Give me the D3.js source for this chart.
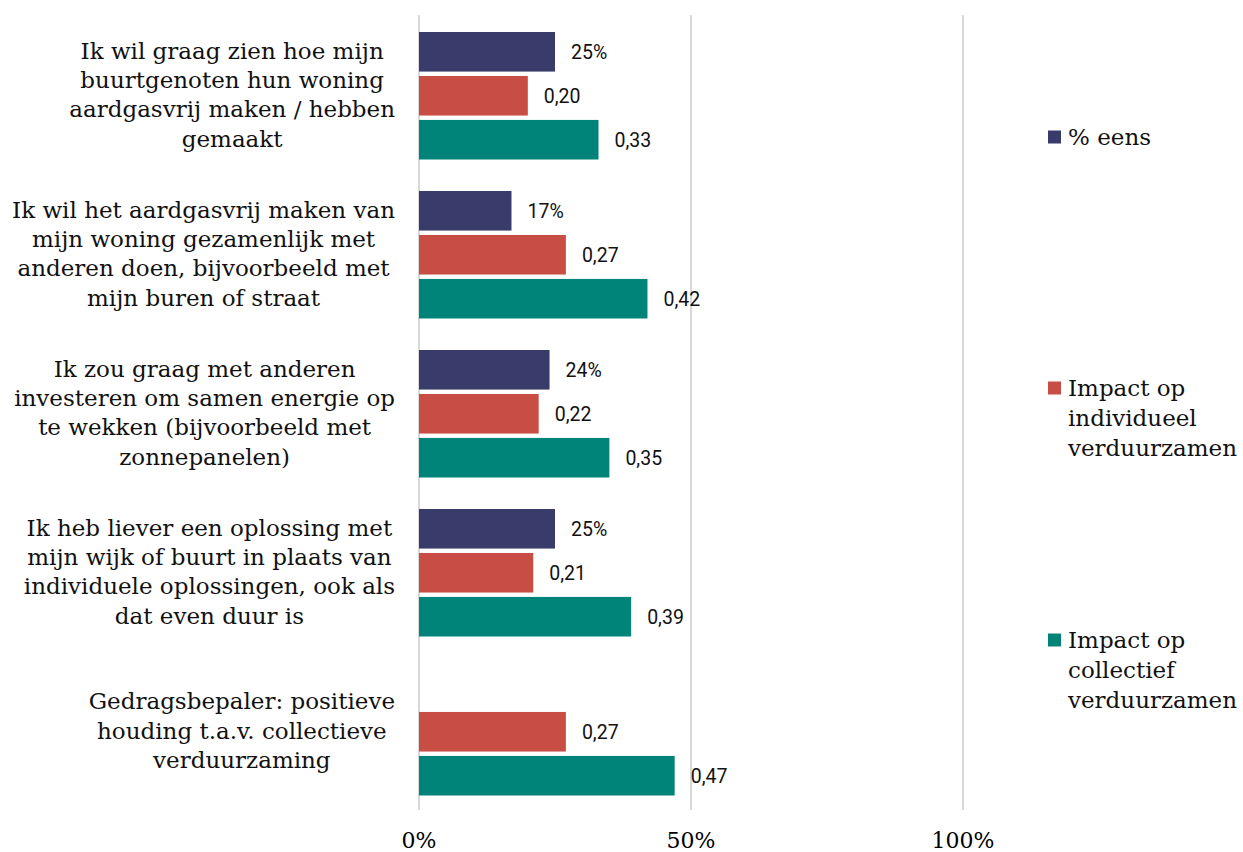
<!DOCTYPE html>
<html>
<head>
<meta charset="utf-8">
<script src="https://cdn.jsdelivr.net/npm/d3@7"></script>
<style>
  html, body { margin: 0; padding: 0; background: #fff; }
  svg { display: block; }
</style>
</head>
<body>
<svg id="chart" width="1243" height="852"></svg>
<script>
// categories, each already split into the lines shown on the chart
const categories = [
  ["Ik wil graag zien hoe mijn", "buurtgenoten hun woning", "aardgasvrij maken / hebben", "gemaakt"],
  ["Ik wil het aardgasvrij maken van", "mijn woning gezamenlijk met", "anderen doen, bijvoorbeeld met", "mijn buren of straat"],
  ["Ik zou graag met anderen", "investeren om samen energie op", "te wekken (bijvoorbeeld met", "zonnepanelen)"],
  ["Ik heb liever een oplossing met", "mijn wijk of buurt in plaats van", "individuele oplossingen, ook als", "dat even duur is"],
  ["Gedragsbepaler: positieve", "houding t.a.v. collectieve", "verduurzaming"]
];
const seriesNames = ["% eens", "Impact op individueel verduurzamen", "Impact op collectief verduurzamen"];
const legendLines = [["% eens"], ["Impact op", "individueel", "verduurzamen"], ["Impact op", "collectief", "verduurzamen"]];
const pctEens = [0.25, 0.17, 0.24, 0.25, null];
const impactIndividueel = [0.20, 0.27, 0.22, 0.21, 0.27];
const impactCollectief = [0.33, 0.42, 0.35, 0.39, 0.47];
const xTicks = [0, 0.5, 1];
const colors = ["#393c6b", "#c84d44", "#00847a"];

const serifFont = "'DejaVu Serif', serif";
const sansFont = "Roboto, Arial, sans-serif";

const svg = d3.select("#chart");

const x = d3.scaleLinear().domain([0, 1]).range([419, 963]);
const keys = categories.map((c, i) => i);
const y0 = d3.scaleBand().domain(keys).range([15, 810]);
const y1 = d3.scaleBand().domain([0, 1, 2]).range([17, 144.5]).paddingInner(0.1);

const rows = keys.map(i => ({
  i,
  values: [pctEens[i], impactIndividueel[i], impactCollectief[i]]
}));

// gridlines
svg.append("g")
  .selectAll("line")
  .data(xTicks)
  .join("line")
  .attr("x1", d => x(d))
  .attr("x2", d => x(d))
  .attr("y1", 15)
  .attr("y2", 810)
  .attr("stroke", "#d9d9d9")
  .attr("stroke-width", 2);

// x tick labels
svg.append("g")
  .selectAll("text")
  .data(xTicks)
  .join("text")
  .attr("x", d => x(d))
  .attr("y", 848)
  .attr("text-anchor", "middle")
  .attr("font-family", serifFont)
  .attr("font-size", "22px")
  .attr("fill", "#000")
  .text(d => d3.format(".0%")(d));

// bars
const groups = svg.append("g")
  .selectAll("g")
  .data(rows)
  .join("g")
  .attr("transform", d => `translate(0,${y0(d.i)})`);

groups.selectAll("rect")
  .data(d => d.values.map((v, s) => ({ v, s })).filter(d => d.v != null))
  .join("rect")
  .attr("x", x(0))
  .attr("y", d => y1(d.s))
  .attr("width", d => x(d.v) - x(0))
  .attr("height", y1.bandwidth())
  .attr("fill", d => colors[d.s]);

groups.selectAll("text")
  .data(d => d.values.map((v, s) => ({ v, s })).filter(d => d.v != null))
  .join("text")
  .attr("x", d => x(d.v) + 16)
  .attr("y", d => y1(d.s) + y1.bandwidth() / 2)
  .attr("dy", "0.35em")
  .attr("font-family", sansFont)
  .attr("font-size", "19.5px")
  .attr("fill", "#111")
  .text(d => d.s === 0 ? d3.format(".0%")(d.v) : d3.format(".2f")(d.v).replace(".", ","));

// category labels: block right-aligned, lines centred inside the block
const labelRight = 395;
const lineH = 29.3;
svg.append("g")
  .selectAll("text")
  .data(rows)
  .join("text")
  .attr("font-family", serifFont)
  .attr("font-size", "23px")
  .attr("fill", "#111")
  .attr("text-anchor", "middle")
  .each(function (d) {
    const t = d3.select(this);
    const lines = categories[d.i];
    const cy = y0(d.i) + y0.bandwidth() / 2;
    const top = cy - (lines.length - 1) * lineH / 2;
    t.selectAll("tspan")
      .data(lines)
      .join("tspan")
      .attr("y", (l, k) => top + k * lineH)
      .attr("dy", "0.35em")
      .text(l => l);
    let maxW = 0;
    t.selectAll("tspan").each(function () {
      maxW = Math.max(maxW, this.getComputedTextLength());
    });
    t.selectAll("tspan").attr("x", labelRight - maxW / 2);
  });

// legend
const legendY = [137, 418, 670];
const legend = svg.append("g")
  .selectAll("g")
  .data(seriesNames)
  .join("g")
  .attr("transform", (d, i) => `translate(1048,${legendY[i]})`);

legend.append("rect")
  .attr("x", 0)
  .attr("y", (d, i) => -(legendLines[i].length - 1) * 15 - 6.5)
  .attr("width", 13)
  .attr("height", 13)
  .attr("fill", (d, i) => colors[i]);

legend.append("text")
  .attr("font-family", serifFont)
  .attr("font-size", "23px")
  .attr("fill", "#111")
  .each(function (d, i) {
    const lines = legendLines[i];
    d3.select(this).selectAll("tspan")
      .data(lines)
      .join("tspan")
      .attr("x", 20)
      .attr("y", (l, k) => (k - (lines.length - 1) / 2) * 30)
      .attr("dy", "0.35em")
      .text(l => l);
  });
</script>
</body>
</html>
